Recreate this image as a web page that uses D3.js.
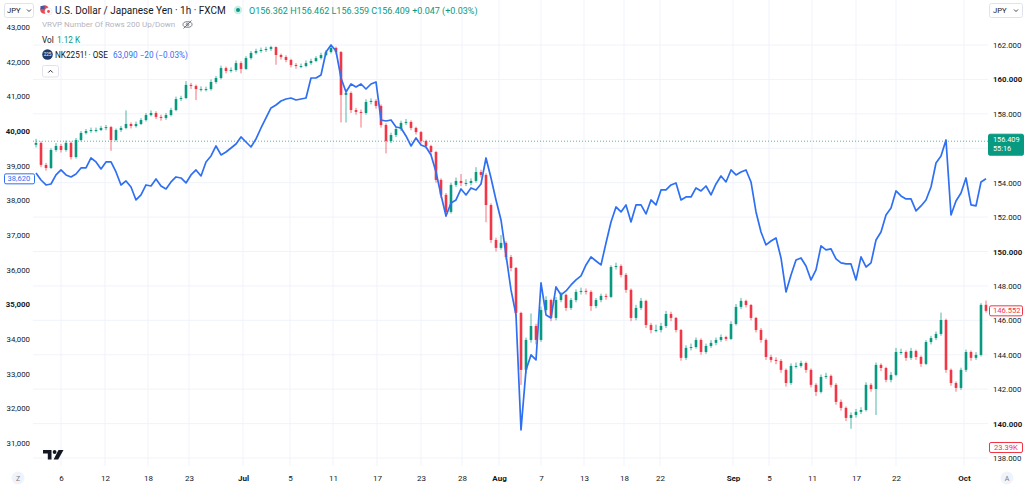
<!DOCTYPE html>
<html><head><meta charset="utf-8">
<script src="https://cdn.jsdelivr.net/npm/d3@7/dist/d3.min.js"></script>
<style>
html,body{margin:0;padding:0;background:#fff;overflow:hidden;}
svg{display:block;font-family:Roboto,"Noto Sans",sans-serif;}
</style></head><body>
<svg id="c" width="1024" height="486"></svg>
<script>
// ---------- DATA ----------
const usdjpyFirstOpen = 156.20;
const usdjpyClose = [
156.31,155.03,154.85,155.90,156.13,155.90,156.31,155.49,156.48,156.89,
157.00,157.06,157.06,157.18,157.23,156.48,157.06,157.18,157.41,157.29,
157.41,157.64,157.93,158.05,157.82,157.76,157.93,158.22,158.86,158.92,
159.68,159.62,159.44,159.44,159.44,159.85,160.08,160.66,160.49,160.55,
160.95,160.61,161.24,161.54,161.65,161.71,161.77,161.88,161.42,161.30,
161.13,160.84,160.78,160.78,160.95,161.07,161.24,161.42,161.59,161.83,
161.59,159.10,159.21,158.22,158.11,158.05,158.69,158.75,158.46,157.35,
156.42,156.77,157.12,157.47,157.53,157.18,156.94,156.42,156.13,155.78,
154.16,153.29,152.30,153.87,154.10,153.98,153.98,154.10,154.62,154.45,
152.70,150.67,150.21,150.50,149.68,149.04,146.43,143.12,144.86,145.67,
144.86,146.60,147.18,146.14,147.18,147.48,146.72,147.18,147.65,147.71,
147.65,146.83,147.18,147.42,147.36,149.10,149.16,148.64,147.77,146.14,
146.72,147.13,145.73,145.44,145.44,145.67,146.37,146.14,145.44,143.82,
144.40,144.45,144.86,144.16,144.51,144.69,144.86,145.03,144.92,145.79,
146.78,147.13,146.89,146.14,145.44,144.86,143.87,143.70,143.64,143.12,
142.36,143.35,143.35,143.52,143.12,142.25,141.84,142.71,142.77,142.25,
141.26,140.91,140.33,140.50,140.68,140.79,142.25,142.01,143.41,143.23,
142.54,142.83,144.16,144.16,143.82,144.22,143.87,143.47,144.74,144.97,
145.21,146.02,143.12,142.36,142.07,143.12,144.16,143.82,143.99,146.90,
146.55];
const usdjpyHigh = [
156.55,156.40,155.15,156.00,156.30,156.25,156.45,156.40,156.60,157.00,
157.12,157.20,157.20,157.30,157.35,157.30,157.15,157.30,158.20,157.50,
157.55,157.75,158.05,158.20,158.15,157.95,158.05,158.35,159.00,159.05,
159.90,159.80,159.70,159.60,159.58,160.00,160.20,160.80,160.75,160.70,
161.10,161.05,161.35,161.65,161.78,161.85,161.90,161.95,161.92,161.50,
161.40,161.20,160.95,160.92,161.10,161.20,161.35,161.55,161.70,161.95,
161.90,161.65,159.45,159.30,158.35,158.25,158.85,158.90,158.85,158.55,
157.45,156.90,157.25,157.60,157.70,157.62,157.25,157.00,156.50,156.20,
155.85,154.25,153.40,154.00,154.30,154.50,154.20,154.25,154.90,154.75,
154.55,152.80,150.80,150.95,150.60,149.80,149.10,146.50,145.00,146.40,
145.80,146.80,147.40,147.25,147.35,147.65,147.55,147.30,147.80,147.90,
147.85,147.75,147.30,147.55,147.55,149.20,149.35,149.25,148.75,147.85,
146.90,147.30,147.20,145.85,145.75,145.85,146.55,146.50,146.20,145.50,
144.55,144.65,145.00,144.95,144.65,144.85,145.00,145.18,145.10,145.95,
146.95,147.30,147.20,146.95,146.20,145.55,144.95,144.00,143.85,143.75,
143.20,143.50,143.55,143.65,143.60,143.20,142.35,142.85,142.95,142.85,
142.35,141.40,141.00,140.65,140.85,140.95,142.40,142.35,143.55,143.50,
143.30,143.00,144.40,144.35,144.25,144.40,144.30,143.95,144.85,145.10,
145.35,146.45,146.10,143.20,142.45,143.25,144.30,144.25,144.15,147.00,
147.15];
const usdjpyLow = [
156.05,154.90,154.70,154.80,155.80,155.75,155.80,155.35,155.40,156.40,
156.80,156.90,156.92,157.00,157.05,155.85,156.40,156.95,157.10,157.15,
157.20,157.35,157.55,157.85,157.70,157.60,157.65,157.85,158.15,158.75,
158.85,159.45,158.80,159.30,159.30,159.35,159.75,160.00,160.35,160.40,
160.45,160.35,160.55,161.15,161.45,161.55,161.60,161.65,160.85,161.15,
161.00,160.70,160.62,160.65,160.70,160.85,161.00,161.15,161.35,161.50,
161.45,157.50,157.50,158.05,157.95,157.20,157.95,158.55,158.30,157.20,
155.70,156.30,156.65,157.00,157.35,157.05,156.80,156.28,155.98,155.60,
154.00,153.10,152.00,152.20,153.75,153.80,153.80,153.85,154.00,154.30,
151.70,150.50,150.00,150.10,149.50,148.85,146.20,142.25,142.90,144.70,
144.60,144.75,146.50,145.95,146.00,147.05,146.55,146.60,147.05,147.50,
147.50,146.55,146.70,147.05,147.20,147.30,148.95,148.50,147.60,145.95,
146.00,146.60,145.55,145.25,145.30,145.30,145.55,145.95,145.30,143.65,
143.70,144.25,144.35,144.00,144.05,144.40,144.55,144.75,144.80,144.85,
145.70,146.65,146.75,146.00,145.30,144.70,143.70,143.55,143.45,142.95,
142.15,142.25,143.20,143.25,142.95,142.10,141.60,141.75,142.60,142.10,
141.10,140.75,140.15,139.70,140.35,140.55,140.70,141.85,140.50,143.05,
142.40,142.40,142.75,144.00,143.65,143.70,143.70,143.30,143.40,144.60,
144.85,145.10,142.95,142.20,141.85,141.95,143.00,143.65,143.70,143.90,
146.45];
const nk225 = [
38789,38587,38443,38472,38732,38876,38732,38674,38761,38934,
38934,39222,39107,38905,39107,39107,38818,38443,38559,38386,
38011,38155,38443,38414,38616,38414,38328,38530,38674,38645,
38501,38732,38876,38703,39107,39280,39568,39309,39395,39510,
39626,39828,39683,39539,39770,40087,40376,40664,40750,40866,
40923,40952,40895,40923,40952,41529,41529,41616,42279,42481,
42308,41529,41125,41356,41270,41356,41212,41356,41414,40318,
40289,40318,40116,40087,39857,39568,39799,39597,39539,39309,
38818,38155,37549,37924,38011,38328,38155,38357,38299,38472,
39222,38645,38011,37434,36424,35415,34694,31378,33108,33541,
33396,35617,34694,34608,35502,35271,35386,35559,35704,35819,
36136,36367,36251,36136,36771,37376,37809,37665,37867,37376,
37867,37867,37607,38011,37867,38299,38299,38443,38501,38011,
38097,38097,38357,38270,38414,38155,38472,38703,38530,38876,
38732,38818,38876,38530,37665,37088,36713,36828,36915,36338,
35357,35848,36280,36338,36107,35704,35992,36684,36569,36598,
36309,36194,36165,36165,35704,36367,36078,36194,36857,37088,
37578,37780,38270,38126,38040,38040,37694,37838,38011,38386,
39078,39280,39741,37578,37982,38213,38645,37867,37838,38530,
38620];
const timeTickLabels = ["6","12","18","23","Jul","5","11","17","23","28","Aug","7","13","18","22","Sep","5","11","17","22","Oct"];
const timeTickBars = [5,13.8,22.4,30.6,41.4,50.8,59.4,68.2,77,85.2,92.6,101,109.6,117.6,124.8,139.4,146.6,155.2,164,172,185.6];
const monthLabels = ["Jul","Aug","Sep","Oct"];
const rightTicks = [162,160,158,156,154,152,150,148,146,144,142,140,138];
const rightBold = [160,150,140];
const rightHiddenByTag = [156];
const leftTicks = [43000,42000,41000,40000,39000,38000,37000,36000,35000,34000,33000,32000,31000];
const leftBold = [40000,35000];
const usdjpyLast = 146.552, usdjpyHeaderClose = 156.409, nkLast = 38620, volLast = "23.39K";

// ---------- CHART ----------
const svg = d3.select("#c");
const FONT = 'Roboto,"Noto Sans",sans-serif';
const plotL = 33, plotR = 988, plotB = 466;
const x = d3.scaleLinear().domain([0, usdjpyClose.length - 1]).range([36, 986]);
const yR = d3.scaleLinear().domain([138, 162]).range([458, 45]);
const yL = d3.scaleLinear().domain([31000, 43000]).range([443, 27]);
const GREEN = "#089981", RED = "#f23645", BLUE = "#2f6ff2", TXT = "#131722";

// grid
const grid = svg.append("g");
grid.selectAll("line.gh").data(rightTicks).join("line").attr("class","gh")
  .attr("x1", plotL).attr("x2", plotR).attr("y1", d => yR(d)).attr("y2", d => yR(d))
  .attr("stroke", "#f0f3fa").attr("stroke-width", 1);
grid.selectAll("line.gv").data(timeTickBars).join("line").attr("class","gv")
  .attr("x1", d => x(d)).attr("x2", d => x(d)).attr("y1", 0).attr("y2", plotB)
  .attr("stroke", "#f0f3fa").attr("stroke-width", 1);

// dotted last-price line
svg.append("line").attr("x1", plotL).attr("x2", plotR)
  .attr("y1", yR(usdjpyHeaderClose)).attr("y2", yR(usdjpyHeaderClose))
  .attr("stroke", GREEN).attr("stroke-opacity", 0.7).attr("stroke-dasharray", "1,2");

// candles
const candles = usdjpyClose.map((c, i) => ({
  i, o: i === 0 ? usdjpyFirstOpen : usdjpyClose[i - 1], c, h: usdjpyHigh[i], l: usdjpyLow[i]
}));
const cg = svg.append("g");
cg.selectAll("line.w").data(candles).join("line").attr("class","w")
  .attr("x1", d => x(d.i)).attr("x2", d => x(d.i))
  .attr("y1", d => yR(d.h)).attr("y2", d => yR(d.l))
  .attr("stroke", d => d.c >= d.o ? GREEN : RED).attr("stroke-width", 1).attr("stroke-opacity", 0.7);
cg.selectAll("rect.b").data(candles).join("rect").attr("class","b")
  .attr("x", d => x(d.i) - 1.3).attr("width", 2.6)
  .attr("y", d => yR(Math.max(d.o, d.c)))
  .attr("height", d => Math.max(1, Math.abs(yR(d.o) - yR(d.c))))
  .attr("fill", d => d.c >= d.o ? GREEN : RED);

// NK225 line
svg.append("path").datum(nk225)
  .attr("d", d3.line().x((d, i) => x(i)).y(d => yL(d)))
  .attr("fill", "none").attr("stroke", BLUE).attr("stroke-width", 1.7)
  .attr("stroke-linejoin", "round");

// axes
function styleAxis(g, bold, fs) {
  g.select(".domain").remove();
  g.attr("font-family", FONT).attr("font-size", fs);
  g.selectAll("text").attr("fill", TXT)
    .attr("font-weight", d => bold && bold.includes(d) ? "bold" : "normal");
}
const axR = svg.append("g").attr("transform", "translate(993,0)")
  .call(d3.axisRight(yR).tickValues(rightTicks).tickSize(0).tickPadding(0).tickFormat(d3.format(".3f")));
styleAxis(axR, rightBold, 7.8);
axR.selectAll(".tick").filter(d => rightHiddenByTag.includes(d)).remove();
const axL = svg.append("g").attr("transform", "translate(30,0)")
  .call(d3.axisLeft(yL).tickValues(leftTicks).tickSize(0).tickPadding(0).tickFormat(d3.format(",")));
styleAxis(axL, leftBold, 7.8);
const axB = svg.append("g").attr("transform", "translate(0,475)")
  .call(d3.axisBottom(x).tickValues(timeTickBars).tickSize(0).tickPadding(0)
    .tickFormat((d, i) => timeTickLabels[i]));
styleAxis(axB, null, 8);
axB.selectAll("text").attr("font-weight", (d, i) => monthLabels.includes(timeTickLabels[i]) ? "bold" : "normal");

// price labels
function tag(g, xx, yy, w, h, fill, stroke, lines, color, anchorX, fs) {
  g.append("rect").attr("x", xx).attr("y", yy).attr("width", w).attr("height", h)
    .attr("rx", 1.5).attr("fill", fill).attr("stroke", stroke).attr("stroke-width", 1);
  lines.forEach((t, k) => g.append("text").attr("x", anchorX).attr("y", yy + 7.4 + k * 9.4)
    .attr("font-family", FONT).attr("font-size", fs).attr("fill", color).text(t));
}
const tags = svg.append("g");
tag(tags, 988.5, yR(usdjpyHeaderClose) - 7, 35, 21, GREEN, GREEN, [d3.format(".3f")(usdjpyHeaderClose), "55:16"], "#fff", 993, 7.3);
tag(tags, 989.5, yR(usdjpyLast) - 5, 33, 10, "#fff", RED, [d3.format(".3f")(usdjpyLast)], RED, 993, 7.6);
tag(tags, 989.5, 442.5, 33, 10, "#fff", RED, [volLast], RED, 994, 7.6);
tag(tags, 4.5, yL(nkLast) - 5, 30, 10, "#fff", BLUE, [d3.format(",")(nkLast)], BLUE, 7.5, 7.6);

// header
const hd = svg.append("g").attr("font-family", FONT);
function box(xx, yy, w, h) {
  hd.append("rect").attr("x", xx).attr("y", yy).attr("width", w).attr("height", h)
    .attr("rx", 2).attr("fill", "#fff").attr("stroke", "#e0e3eb");
}
box(4.5, 3.5, 29, 14);
hd.append("text").attr("x", 7).attr("y", 13.3).attr("font-size", 7.6).attr("fill", TXT).text("JPY");
hd.append("path").attr("d", "M27,9.5 l2,2 l2,-2").attr("fill", "none").attr("stroke", TXT).attr("stroke-width", 0.8);
box(989.5, 3.5, 33, 14);
hd.append("text").attr("x", 993).attr("y", 13.3).attr("font-size", 7.6).attr("fill", TXT).text("JPY");
hd.append("path").attr("d", "M1014,9.5 l2,2 l2,-2").attr("fill", "none").attr("stroke", TXT).attr("stroke-width", 0.8);

// flag icon
hd.append("circle").attr("cx", 44.5).attr("cy", 9.5).attr("r", 4.3).attr("fill", "#e8484f");
hd.append("rect").attr("x", 40.5).attr("y", 6).attr("width", 4).attr("height", 3).attr("fill", "#3c5aa6");
hd.append("circle").attr("cx", 48.5).attr("cy", 11.5).attr("r", 3.6).attr("fill", "#fff").attr("stroke", "#e0e3eb").attr("stroke-width", 0.6);
hd.append("circle").attr("cx", 48.5).attr("cy", 11.5).attr("r", 1.4).attr("fill", "#e8484f");
hd.append("text").attr("x", 55).attr("y", 13.8).attr("font-size", 10).attr("fill", TXT)
  .text("U.S. Dollar / Japanese Yen · 1h · FXCM");
hd.append("circle").attr("cx", 238).attr("cy", 10).attr("r", 4.2).attr("fill", "#c8eee6");
hd.append("circle").attr("cx", 238).attr("cy", 10).attr("r", 2).attr("fill", GREEN);
hd.append("text").attr("x", 249).attr("y", 13.5).attr("font-size", 9).attr("fill", GREEN)
  .text("O156.362 H156.462 L156.359 C156.409 +0.047 (+0.03%)");
hd.append("text").attr("x", 42).attr("y", 27.3).attr("font-size", 8).attr("fill", "#b2b5be")
  .text("VRVP Number Of Rows 200 Up/Down");
// eye-slash icon
hd.append("ellipse").attr("cx", 187.5).attr("cy", 24.5).attr("rx", 4.5).attr("ry", 2.8).attr("fill", "none").attr("stroke", "#6a6d78").attr("stroke-width", 0.9);
hd.append("circle").attr("cx", 187.5).attr("cy", 24.5).attr("r", 1.3).attr("fill", "none").attr("stroke", "#6a6d78").attr("stroke-width", 0.9);
hd.append("line").attr("x1", 183.5).attr("y1", 28.5).attr("x2", 191.5).attr("y2", 20.5).attr("stroke", "#6a6d78").attr("stroke-width", 0.9);
hd.append("text").attr("x", 42).attr("y", 43.2).attr("font-size", 8.2).attr("fill", TXT).text("Vol");
hd.append("text").attr("x", 57).attr("y", 43.2).attr("font-size", 8.2).attr("fill", GREEN).text("1.12 K");
hd.append("circle").attr("cx", 47.5).attr("cy", 54.5).attr("r", 5.3).attr("fill", "#1f3b6e");
hd.append("text").attr("x", 47.5).attr("y", 56.2).attr("font-size", 4.6).attr("fill", "#fff").attr("text-anchor", "middle").text("225");
hd.append("text").attr("x", 55).attr("y", 57.5).attr("font-size", 8.2).attr("fill", TXT).text("NK2251! · OSE");
hd.append("text").attr("x", 113).attr("y", 57.5).attr("font-size", 8.2).attr("fill", BLUE).text("63,090 −20 (−0.03%)");
box(42.5, 65.5, 16, 11.5);
hd.append("path").attr("d", "M48.3,72.5 l2.2,-2.2 l2.2,2.2").attr("fill", "none").attr("stroke", TXT).attr("stroke-width", 0.9);

// TradingView logo
const lg = svg.append("g").attr("fill", TXT);
lg.append("path").attr("d", "M43,450 H51.5 V459.5 H47.8 V453.5 H43 Z");
lg.append("circle").attr("cx", 54.6).attr("cy", 452).attr("r", 1.9);
lg.append("path").attr("d", "M58.5,450 H63.5 L58.2,459.5 H53.6 Z");

// bottom buttons
svg.append("circle").attr("cx", 18).attr("cy", 478).attr("r", 6.5).attr("fill", "#f0f3fa");
svg.append("text").attr("x", 18).attr("y", 480.6).attr("font-family", FONT).attr("font-size", 7).attr("fill", "#787b86").attr("text-anchor", "middle").text("Z");
svg.append("circle").attr("cx", 1007).attr("cy", 478).attr("r", 6.5).attr("fill", "#f0f3fa");
svg.append("text").attr("x", 1007).attr("y", 480.6).attr("font-family", FONT).attr("font-size", 7).attr("fill", "#787b86").attr("text-anchor", "middle").text("A");
</script>
</body></html>
